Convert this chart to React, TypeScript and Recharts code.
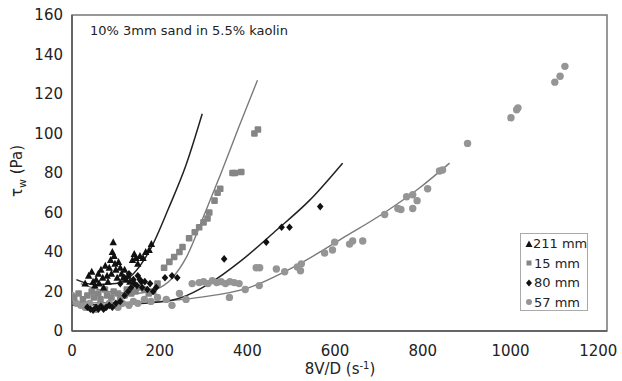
import React from 'react';
import { ComposedChart, Scatter, Line, XAxis, YAxis, ReferenceArea } from 'recharts';

const FONT = '"DejaVu Sans", sans-serif';

const title = '10% 3mm sand in 5.5% kaolin';
const seriesNames = ['211 mm', '15 mm', '80 mm', '57 mm'];
const xTicks = [0, 200, 400, 600, 800, 1000, 1200];
const yTicks = [0, 20, 40, 60, 80, 100, 120, 140, 160];

// 211 mm (black triangles)
const pts211 = [
  [30, 24], [38, 28], [45, 30], [48, 25], [52, 23], [55, 26], [60, 29], [62, 24], [66, 31], [70, 27],
  [72, 22], [76, 33], [80, 28], [82, 25], [85, 32], [88, 36], [90, 29], [92, 40], [94, 45], [96, 38],
  [98, 34], [100, 31], [103, 27], [106, 35], [110, 32], [113, 29], [117, 27], [120, 31], [124, 26], [128, 28],
  [132, 25], [138, 36], [142, 39], [146, 37], [150, 34], [155, 38], [162, 37], [168, 40], [176, 41], [181, 44],
];
// 15 mm (grey squares)
const pts15 = [
  [5, 17], [15, 19], [25, 16], [35, 18], [45, 20], [50, 17], [60, 19], [65, 16], [75, 21], [80, 18],
  [90, 17], [95, 20], [105, 19], [110, 16], [120, 18], [125, 21], [135, 19], [145, 20], [155, 22], [165, 21],
  [175, 19], [185, 20], [195, 24], [210, 32], [222, 35], [233, 37.5], [245, 40], [252, 42.5], [267, 47], [280, 50],
  [290, 52.5], [300, 55], [309, 57], [313, 60], [325, 66], [332, 70], [338, 72], [366, 80], [372, 80], [386, 80.5],
  [416, 100], [424, 102],
];
// 80 mm (black diamonds)
const pts80 = [
  [35, 12], [42, 11], [48, 10.5], [55, 12], [60, 11], [66, 12.5], [72, 11], [78, 12], [85, 13], [92, 12],
  [100, 14], [110, 24], [120, 27], [130, 29], [140, 26], [150, 28], [158, 25], [110, 15], [120, 18], [128, 20],
  [135, 22], [142, 24], [148, 23], [155, 26], [160, 22], [166, 25], [172, 21], [178, 24], [185, 20], [192, 22],
  [212, 27], [228, 28], [240, 27], [347, 36.5], [443, 45], [478, 52.5], [496, 52.5], [566, 63],
];
// 57 mm (grey circles)
const pts57 = [
  [0, 18], [10, 14], [20, 13], [30, 12], [40, 14], [55, 11], [65, 13], [75, 12], [85, 14], [95, 13],
  [105, 12], [115, 14], [130, 13], [140, 15], [150, 14], [165, 16], [180, 15], [195, 17], [215, 16], [228, 13],
  [245, 19], [260, 16], [274, 24], [290, 24.5], [300, 25], [310, 24], [320, 25.5], [330, 24.5], [340, 25], [350, 24],
  [360, 25], [370, 24.5], [381, 24], [359, 17], [395, 21], [420, 32], [428, 32], [427, 23], [466, 31.4], [485, 30],
  [514, 32.4], [521, 30.5], [523, 34], [576, 39.5], [594, 41], [599, 45], [633, 44], [640, 45.6], [663, 45.6], [713, 59],
  [743, 62], [750, 61.5], [763, 68], [777, 69], [777, 62], [787, 66], [811, 72], [838, 81], [845, 81.5], [902, 95],
  [1001, 108], [1014, 112], [1017, 113], [1101, 126], [1113, 129], [1124, 134],
];

// fitted curves
const fit211 = [[10, 26], [50, 23.5], [100, 24], [140, 29], [180, 42], [220, 62], [260, 84], [297, 110]];
const fit15 = [[20, 24], [80, 20], [140, 19], [190, 21], [225, 26], [260, 37], [300, 58], [340, 80], [380, 103], [423, 127]];
const fit80 = [[0, 13], [100, 13.5], [200, 14.7], [250, 17], [313, 24], [388, 36], [466, 51], [541, 66], [617, 85]];
const fit57 = [[0, 14], [100, 14.5], [200, 15], [290, 17], [404, 22], [519, 34], [617, 47], [713, 60], [790, 72], [861, 85]];

const toObj = (a: number[][]) => a.map(([x, y]) => ({ x, y }));

const minorX = Array.from({ length: 31 }, (_, i) => i * 40);
const minorY = Array.from({ length: 41 }, (_, i) => i * 4);

const Tri = (p: any) => {
  const { cx, cy } = p;
  if (cx == null || cy == null) return null;
  return <polygon points={`${cx},${cy - 4} ${cx - 3.7},${cy + 3} ${cx + 3.7},${cy + 3}`} fill="#111" />;
};
const Sq = (p: any) => {
  const { cx, cy } = p;
  if (cx == null || cy == null) return null;
  return <rect x={cx - 3.3} y={cy - 3.3} width={6.6} height={6.6} rx={1.2} fill="#858585" />;
};
const Dia = (p: any) => {
  const { cx, cy } = p;
  if (cx == null || cy == null) return null;
  return <polygon points={`${cx},${cy - 3.8} ${cx + 3.3},${cy} ${cx},${cy + 3.8} ${cx - 3.3},${cy}`} fill="#111" />;
};
const Circ = (p: any) => {
  const { cx, cy } = p;
  if (cx == null || cy == null) return null;
  return <circle cx={cx} cy={cy} r={3.7} fill="#959595" />;
};

const legendMarks = [
  <svg width={8} height={8}><polygon points="4,0.5 0.5,7 7.5,7" fill="#111" /></svg>,
  <svg width={8} height={8}><rect x={1.5} y={1.5} width={5} height={5} fill="#858585" /></svg>,
  <svg width={8} height={8}><polygon points="4,0.5 7,4 4,7.5 1,4" fill="#111" /></svg>,
  <svg width={8} height={8}><circle cx={4} cy={4} r={3} fill="#959595" /></svg>,
];

export default function App() {
  return (
    <div style={{ position: 'absolute', left: 0, top: 0, width: 622, height: 381, background: '#fff' }}>
      <ComposedChart width={622} height={381} margin={{ top: 15, right: 15, left: 0, bottom: 0 }}>
        <XAxis
          dataKey="x"
          type="number"
          domain={[0, 1220]}
          ticks={xTicks}
          allowDataOverflow
          height={50}
          tickSize={0}
          tickMargin={14}
          tickLine={false}
          axisLine={{ stroke: '#555', strokeWidth: 1.5 }}
          tick={{ fontSize: 15, fill: '#222', fontFamily: FONT }}
          label={{
            content: () => (
              <text x={340} y={374} textAnchor="middle" fontFamily={FONT} fontSize={15} fill="#222">
                8V/D (s<tspan dy={-5} fontSize={10}>-1</tspan><tspan dy={5}>)</tspan>
              </text>
            ),
          }}
        />
        <YAxis
          type="number"
          domain={[0, 160]}
          ticks={yTicks}
          allowDataOverflow
          width={72}
          tickSize={0}
          tickMargin={9}
          tickLine={false}
          axisLine={{ stroke: '#555', strokeWidth: 1.5 }}
          tick={{ fontSize: 15, fill: '#222', fontFamily: FONT }}
          label={{
            content: () => (
              <text x={0} y={0} transform="translate(22,171) rotate(-90)" textAnchor="middle" fontFamily={FONT} fontSize={15} fill="#222">
                τ<tspan dy={4} fontSize={11}>w</tspan><tspan dy={-4}> (Pa)</tspan>
              </text>
            ),
          }}
        />
        <XAxis xAxisId="minor" type="number" domain={[0, 1220]} ticks={minorX} mirror tick={false} tickSize={3} axisLine={false} tickLine={{ stroke: '#bbb' }} />
        <YAxis yAxisId="minor" type="number" domain={[0, 160]} ticks={minorY} mirror tick={false} tickSize={3} axisLine={false} tickLine={{ stroke: '#bbb' }} />
        <ReferenceArea x1={0} x2={1220} y1={0} y2={160} fill="none" stroke="#777" strokeWidth={1.5} ifOverflow="visible" />

        <Scatter name={seriesNames[3]} data={toObj(pts57)} dataKey="y" shape={Circ} isAnimationActive={false} />
        <Scatter name={seriesNames[1]} data={toObj(pts15)} dataKey="y" shape={Sq} isAnimationActive={false} />
        <Scatter name={seriesNames[2]} data={toObj(pts80)} dataKey="y" shape={Dia} isAnimationActive={false} />
        <Scatter name={seriesNames[0]} data={toObj(pts211)} dataKey="y" shape={Tri} isAnimationActive={false} />

        <Line data={toObj(fit57)} dataKey="y" type="monotone" dot={false} stroke="#7a7a7a" strokeWidth={1.4} isAnimationActive={false} />
        <Line data={toObj(fit15)} dataKey="y" type="monotone" dot={false} stroke="#7a7a7a" strokeWidth={1.4} isAnimationActive={false} />
        <Line data={toObj(fit80)} dataKey="y" type="monotone" dot={false} stroke="#222" strokeWidth={1.5} isAnimationActive={false} />
        <Line data={toObj(fit211)} dataKey="y" type="monotone" dot={false} stroke="#222" strokeWidth={1.5} isAnimationActive={false} />
      </ComposedChart>

      <div style={{ position: 'absolute', left: 90, top: 23, fontFamily: FONT, fontSize: 13, color: '#222', whiteSpace: 'nowrap' }}>
        {title}
      </div>

      <div
        style={{
          position: 'absolute', left: 520, top: 233, width: 68, height: 78,
          border: '1px solid #aaa', background: '#fff', fontFamily: FONT, fontSize: 13, color: '#222',
          lineHeight: '19.5px', paddingTop: 0, boxSizing: 'border-box',
        }}
      >
        {seriesNames.map((n, i) => (
          <div key={n} style={{ display: 'flex', alignItems: 'center', paddingLeft: 4, whiteSpace: 'nowrap' }}>
            <span style={{ display: 'inline-block', width: 9, height: 8, lineHeight: 0 }}>{legendMarks[i]}</span>
            <span>{n}</span>
          </div>
        ))}
      </div>
    </div>
  );
}
